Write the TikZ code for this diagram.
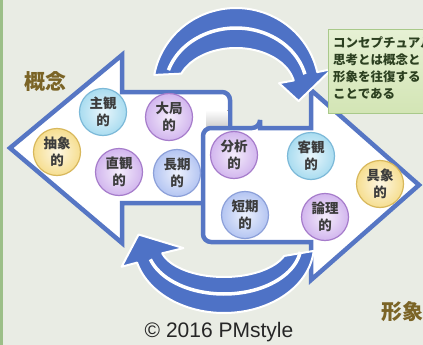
\documentclass[tikz,border=0pt]{standalone}
\usepackage{fontspec}
\setmainfont{Liberation Sans}
\newfontfamily\jp{Noto Sans CJK JP}
\definecolor{bg}{HTML}{E9ECE4}
\definecolor{edgegreen}{HTML}{9CBF88}
\definecolor{abl}{HTML}{5676C4}
\definecolor{cbl}{HTML}{4E72C6}
\definecolor{gold}{HTML}{7B6426}
\definecolor{txtc}{HTML}{3C3C3C}
\definecolor{boxtext}{HTML}{2C4020}
\definecolor{boxline}{HTML}{A9C98A}
\definecolor{boxtop}{HTML}{E6F1D4}
\definecolor{boxbot}{HTML}{D3E5B5}
\definecolor{yf}{HTML}{F6DE90}\definecolor{yb}{HTML}{D8B85C}
\definecolor{cf}{HTML}{A9DCF0}\definecolor{cb}{HTML}{7CB9D8}
\definecolor{pf}{HTML}{D2B6EE}\definecolor{pb}{HTML}{A67CCB}
\definecolor{bf}{HTML}{B4C5F2}\definecolor{bb}{HTML}{8CA0D9}
\tikzset{
  bigarrow/.style={draw=abl, fill=white, line width=4.5pt, line join=miter},
  curvearrow/.style={fill=cbl, draw=white, line width=2pt, line join=round},
  sepline/.style={draw=white, line width=3.5pt},
  bub/.style={circle, minimum size=47pt, inner sep=0pt, line width=1.2pt, align=center,
    font=\jp\bfseries\fontsize{13.5}{16.5}\selectfont, text=txtc},
  ybub/.style={bub, draw=yb, inner color=yf!25, outer color=yf},
  cbub/.style={bub, draw=cb, inner color=cf!25, outer color=cf},
  pbub/.style={bub, draw=pb, inner color=pf!25, outer color=pf},
  bbub/.style={bub, draw=bb, inner color=bf!25, outer color=bf},
  biglabel/.style={font=\jp\bfseries\fontsize{21}{24}\selectfont, text=gold},
}
\begin{document}
\begin{tikzpicture}[x=1pt,y=-1pt]
\fill[bg] (0,0) rectangle (423,345);
\useasboundingbox (0,0) rectangle (423,345);
\fill[edgegreen] (0,0) rectangle (2.5,345);

% left arrow (concept)
\draw[bigarrow] (10,148) -- (122,55) -- (122,92) -- (180,92)
  {[rounded corners=8pt] -- (230,92) -- (230,150)} -- (230,203) -- (122,203) -- (122,243) -- cycle;
\fill[top color=white, bottom color=gray!40] (206,110) rectangle (227.5,128);

% right arrow (form)
\draw[bigarrow] (260,128) -- (311,128) -- (311,90) -- (419,185) -- (311,280) -- (311,242) -- (260,242)
  {[rounded corners=8pt] -- (203,242) -- (203,128) -- (260,128)} -- cycle;

% top curved arrow
\path[curvearrow]
  plot[domain=190:348, samples=60] ({236+83*cos(\x)}, {89+81*sin(\x)})
  -- ({236+98*cos(348)}, {89+96*sin(348)})
  -- ({236+64*cos(12)}, {89+58*sin(12)})
  -- ({236+44*cos(348)}, {89+28*sin(348)})
  -- plot[domain=348:202, samples=60] ({236+59*cos(\x)}, {89+41*sin(\x)})
  -- cycle;
\draw[sepline] plot[domain=198:346, samples=50] ({236+71*cos(\x)}, {89+61*sin(\x)});

% bottom curved arrow
\path[curvearrow]
  plot[domain=5:165, samples=60] ({224+90*cos(\x)}, {245+68*sin(\x)})
  -- ({224+106*cos(165)}, {245+84*sin(165)})
  -- ({224+87*cos(191)}, {245+55*sin(191)})
  -- ({224+42*cos(165)}, {245+12*sin(165)})
  -- plot[domain=165:20, samples=60] ({224+64*cos(\x)}, {245+32*sin(\x)})
  -- cycle;
\draw[sepline] plot[domain=8:163, samples=50] ({224+77*cos(\x)}, {245+49*sin(\x)});

% bubbles
\node[ybub] (chusho) at (57,152) {抽象\\的};
\node[cbub] (shukan) at (103,112) {主観\\的};
\node[pbub] (taikyoku) at (169,117) {大局\\的};
\node[pbub] (chokkan) at (119,172) {直観\\的};
\node[bbub] (choki) at (177,173) {長期\\的};
\node[pbub] (bunseki) at (234,155) {分析\\的};
\node[cbub] (kyakkan) at (311,156) {客観\\的};
\node[ybub] (gusho) at (380,184) {具象\\的};
\node[bbub] (tanki) at (245,215) {短期\\的};
\node[pbub] (ronri) at (325,217) {論理\\的};

% labels
\node[biglabel] (gainen) at (45,82) {概念};
\node[biglabel] (keisho) at (402,312) {形象};

% callout
\path[draw=boxline, line width=1pt, top color=boxtop, bottom color=boxbot] (328,30) rectangle (440,113);
\node[anchor=north west, align=left, inner sep=0pt, text=boxtext,
  font=\jp\bfseries\fontsize{12.5}{17.3}\selectfont] (callout) at (333,36)
  {コンセプチュアル\\思考とは概念と\\形象を往復する\\ことである};

% copyright
\node[font=\fontsize{21}{24}\selectfont, text=black!85] (copy) at (219,332) {© 2016 PMstyle};
\end{tikzpicture}
\end{document}
